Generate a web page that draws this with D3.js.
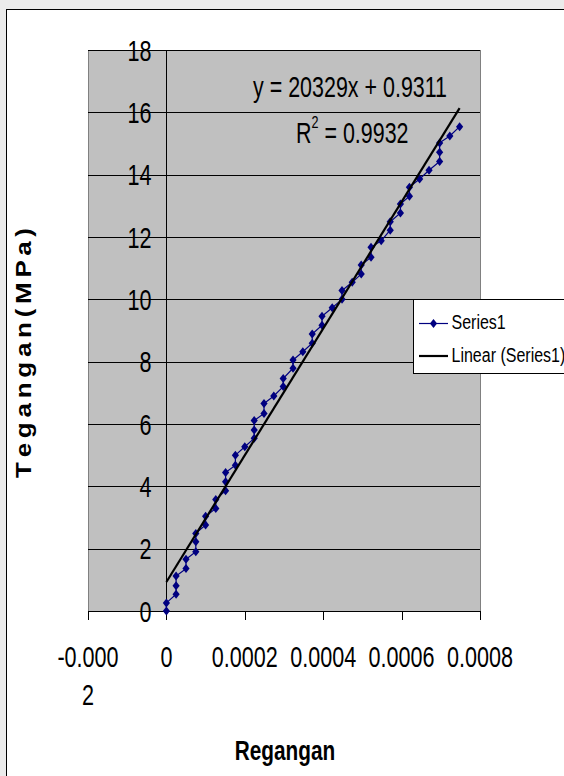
<!DOCTYPE html>
<html lang="en">
<head>
<meta charset="utf-8">
<title>Tegangan - Regangan</title>
<script src="https://d3js.org/d3.v7.min.js"></script>
<style>
  body { margin: 0; background: #ebebeb; overflow: hidden; }
  svg text { font-family: "Liberation Sans", Arial, sans-serif; fill: #000; }
  .grid line { stroke: #000; stroke-width: 1px; shape-rendering: crispEdges; }
  .axis path, .axis line { stroke: #000; shape-rendering: crispEdges; }
</style>
</head>
<body>
<div id="chart"></div>
<script>
// strain (x) and stress in MPa (y)
var strain = [0, 0, 0.0000247, 0.0000247, 0.0000247, 0.00005, 0.00005,
  0.000075, 0.000075, 0.000075, 0.0001, 0.0001, 0.000126, 0.000126,
  0.000151, 0.000151, 0.000151, 0.000176, 0.000176, 0.0002,
  0.000224, 0.000224, 0.000224, 0.000249, 0.000249, 0.000274,
  0.000298, 0.000298, 0.000323, 0.000323, 0.000348, 0.000372, 0.000372,
  0.000397, 0.000397, 0.000423, 0.000448, 0.000448, 0.000474,
  0.000497, 0.000497, 0.000522, 0.000522, 0.000548, 0.000571, 0.000571,
  0.000597, 0.000597, 0.00062, 0.00062, 0.000646, 0.00067,
  0.000697, 0.000697, 0.000697, 0.000723, 0.000748];
var stress = [0, 0.26, 0.54, 0.81, 1.12, 1.36, 1.66,
  1.9, 2.22, 2.49, 2.76, 3.04, 3.29, 3.58,
  3.86, 4.15, 4.44, 4.68, 5.0, 5.27,
  5.54, 5.81, 6.11, 6.34, 6.66, 6.9,
  7.2, 7.46, 7.79, 8.05, 8.32, 8.59, 8.89,
  9.17, 9.46, 9.73, 10.0, 10.28, 10.55,
  10.81, 11.1, 11.35, 11.67, 11.88, 12.22, 12.49,
  12.77, 13.06, 13.31, 13.6, 13.86, 14.14,
  14.42, 14.72, 15.02, 15.24, 15.54];

var yTicks = [0, 2, 4, 6, 8, 10, 12, 14, 16, 18];
var xTicks = [-0.0002, 0, 0.0002, 0.0004, 0.0006, 0.0008];
var xTickLabels = [["-0.000", "2"], ["0"], ["0.0002"], ["0.0004"], ["0.0006"], ["0.0008"]];

var slope = 20329, intercept = 0.9311, rSquared = "0.9932";

var W = 564, H = 776;
var margin = {top: 50, right: 84, bottom: 165, left: 88};
var width = W - margin.left - margin.right;    // 392
var height = H - margin.top - margin.bottom;   // 561
var sx = 0.72; // the original chart is squeezed sideways

var svg = d3.select("#chart").append("svg")
    .attr("width", W)
    .attr("height", H);

// white chart frame
svg.append("rect")
    .attr("x", 6.5).attr("y", 9.5)
    .attr("width", 700).attr("height", 900)
    .attr("fill", "#fff").attr("stroke", "#000");

var g = svg.append("g")
    .attr("transform", "translate(" + margin.left + "," + margin.top + ")");

var x = d3.scaleLinear().domain([-0.0002, 0.0008]).range([0, width]);
var y = d3.scaleLinear().domain([0, 18]).range([height, 0]);

// plot area
g.append("rect")
    .attr("width", width).attr("height", height)
    .attr("fill", "#c0c0c0")
    .attr("stroke", "#808080")
    .attr("shape-rendering", "crispEdges");

g.append("g").attr("class", "grid")
  .selectAll("line")
  .data(yTicks.filter(function(d) { return d > 0; }))
  .enter().append("line")
    .attr("x1", 0).attr("x2", width)
    .attr("y1", function(d) { return Math.round(y(d)) + 0.5; })
    .attr("y2", function(d) { return Math.round(y(d)) + 0.5; });

// y axis sits at x = 0
g.append("g").attr("class", "axis")
    .attr("transform", "translate(" + x(0) + ",0)")
    .call(d3.axisLeft(y).tickValues(yTicks).tickSize(6).tickSizeOuter(0).tickFormat(""));

g.append("g").attr("class", "axis")
    .attr("transform", "translate(0," + y(0) + ")")
    .call(d3.axisBottom(x).tickValues(xTicks).tickSize(9).tickSizeOuter(0).tickFormat(""));

// y tick labels
g.append("g").selectAll("text")
  .data(yTicks)
  .enter().append("text")
    .attr("text-anchor", "end")
    .attr("font-size", 30)
    .attr("transform", function(d) {
      return "translate(" + (x(0) - 15) + "," + (y(d) + 10.5) + ") scale(" + sx + ",1)";
    })
    .text(function(d) { return d; });

// x tick labels (first one wraps onto two lines)
var xl = g.append("g").selectAll("text")
  .data(xTicks)
  .enter().append("text")
    .attr("text-anchor", "middle")
    .attr("font-size", 30)
    .attr("transform", function(d) {
      return "translate(" + x(d) + "," + (y(0) + 56) + ") scale(" + sx + ",1)";
    });
xl.selectAll("tspan")
  .data(function(d, i) { return xTickLabels[i]; })
  .enter().append("tspan")
    .attr("x", 0)
    .attr("dy", function(d, i) { return i ? 38 : 0; })
    .text(function(d) { return d; });

// data series
var pts = strain.map(function(d, i) { return [d, stress[i]]; });
var line = d3.line()
    .x(function(d) { return x(d[0]); })
    .y(function(d) { return y(d[1]); });

g.append("path")
    .datum(pts)
    .attr("fill", "none")
    .attr("stroke", "#000080")
    .attr("stroke-width", 1.2)
    .attr("d", line);

var diamond = "M0,-4.5L3.6,0L0,4.5L-3.6,0Z";
g.append("g").selectAll("path")
  .data(pts)
  .enter().append("path")
    .attr("d", diamond)
    .attr("fill", "#000080")
    .attr("transform", function(d) { return "translate(" + x(d[0]) + "," + y(d[1]) + ")"; });

// linear trendline
var xMax = d3.max(strain);
g.append("path")
    .datum([[0, intercept], [xMax, slope * xMax + intercept]])
    .attr("fill", "none")
    .attr("stroke", "#000")
    .attr("stroke-width", 2.2)
    .attr("d", line);

// equation
svg.append("text")
    .attr("font-size", 29)
    .attr("transform", "translate(253,97) scale(0.74,1)")
    .text("y = " + slope + "x + " + intercept);

var r2 = svg.append("text")
    .attr("font-size", 29)
    .attr("transform", "translate(296,143) scale(0.74,1)");
r2.append("tspan").text("R");
r2.append("tspan").attr("font-size", 17).attr("dy", -15).text("2");
r2.append("tspan").attr("dy", 15).text(" = " + rSquared);

// legend
var leg = svg.append("g").attr("transform", "translate(413,299)");
leg.append("rect")
    .attr("x", 0.5).attr("y", 0.5)
    .attr("width", 200).attr("height", 74)
    .attr("fill", "#fff").attr("stroke", "#000");
leg.append("line")
    .attr("x1", 6).attr("x2", 35).attr("y1", 24.5).attr("y2", 24.5)
    .attr("stroke", "#000080").attr("stroke-width", 1.2);
leg.append("path")
    .attr("d", diamond).attr("fill", "#000080")
    .attr("transform", "translate(20.5,24.5)");
leg.append("text")
    .attr("font-size", 20)
    .attr("transform", "translate(38.5,30) scale(0.8,1)")
    .text("Series1");
leg.append("line")
    .attr("x1", 6).attr("x2", 35).attr("y1", 57).attr("y2", 57)
    .attr("stroke", "#000").attr("stroke-width", 2.2);
leg.append("text")
    .attr("font-size", 20)
    .attr("transform", "translate(38.5,63) scale(0.8,1)")
    .text("Linear (Series1)");

// axis titles
svg.append("text")
    .attr("text-anchor", "middle")
    .attr("font-size", 27)
    .attr("font-weight", "bold")
    .attr("transform", "translate(285,760) scale(0.77,1)")
    .text("Regangan");

svg.append("text")
    .attr("text-anchor", "middle")
    .attr("font-size", 26)
    .attr("font-weight", "bold")
    .attr("textLength", 250)
    .attr("lengthAdjust", "spacing")
    .attr("transform", "translate(31,353) rotate(-90) scale(1,0.85)")
    .text("T e g a n g a n   ( M P a )");
</script>
</body>
</html>
